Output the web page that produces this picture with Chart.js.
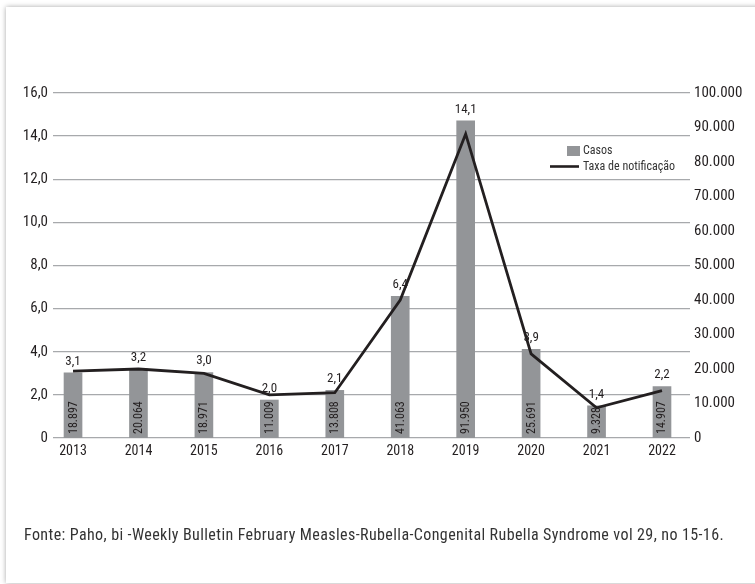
<!DOCTYPE html>
<html>
<head>
<meta charset="utf-8">
<script src="https://cdn.jsdelivr.net/npm/chart.js@4.4.1/dist/chart.umd.min.js"></script>
<style>
  html, body { margin: 0; padding: 0; background: #fff; width: 755px; height: 584px; overflow: hidden; }
  #card { position: absolute; left: 6px; top: 7px; width: 800px; height: 576px; background: #fff;
          box-shadow: 0 0 5px rgba(0,0,0,0.35); }
  #wrap { position: absolute; left: 0; top: 0; width: 755px; height: 584px; }
  #src { position: absolute; left: 24px; top: 525px; font-family: 'Liberation Sans Narrow', 'Roboto Condensed', 'DejaVu Sans Condensed', sans-serif;
         font-size: 16px; letter-spacing: 0.4px; color: #333; white-space: nowrap; }
</style>
</head>
<body>
<div id="card"></div>
<div id="wrap"><canvas id="c" width="755" height="584"></canvas></div>
<div id="src">Fonte: Paho, bi -Weekly Bulletin February Measles-Rubella-Congenital Rubella Syndrome vol 29, no 15-16.</div>
<script>
const years = [2013, 2014, 2015, 2016, 2017, 2018, 2019, 2020, 2021, 2022];
const casos = [18897, 20064, 18971, 11009, 13808, 41063, 91950, 25691, 9328, 14907];
const taxa = [3.1, 3.2, 3.0, 2.0, 2.1, 6.4, 14.1, 3.9, 1.4, 2.2];
const seriesNames = ['Casos', 'Taxa de notificação'];

const FONT = "'Liberation Sans Narrow', 'Roboto Condensed', 'DejaVu Sans Condensed', sans-serif";
const BAR_COLOR = '#939598';
const LINE_COLOR = '#231f20';
const fmtRate = v => v.toFixed(1).replace('.', ',');
const fmtThousand = v => Math.round(v).toString().replace(/\B(?=(\d{3})+(?!\d))/g, '.');

const labelPlugin = {
  id: 'labels',
  afterDatasetDraw(chart, args) {
    if (args.index !== 0) return;
    const ctx = chart.ctx;
    const meta = chart.getDatasetMeta(0);
    ctx.save();
    meta.data.forEach((bar, i) => {
      ctx.font = '13px ' + FONT;
      ctx.fillStyle = '#231f20';
      ctx.textAlign = 'center';
      ctx.textBaseline = 'bottom';
      ctx.fillText(fmtRate(taxa[i]), bar.x, bar.y - 5);
      ctx.save();
      ctx.translate(bar.x, bar.base - 4);
      ctx.rotate(-Math.PI / 2);
      ctx.font = '12px ' + FONT;
      ctx.fillStyle = '#231f20';
      ctx.textAlign = 'left';
      ctx.textBaseline = 'middle';
      ctx.fillText(fmtThousand(casos[i]), 0, 0.5);
      ctx.restore();
    });
    ctx.restore();
  },
  afterDraw(chart) {
    const ctx = chart.ctx;
    ctx.save();
    ctx.font = '12px ' + FONT;
    ctx.textAlign = 'left';
    ctx.textBaseline = 'middle';
    ctx.fillStyle = BAR_COLOR;
    ctx.fillRect(567, 146, 13, 10);
    ctx.fillStyle = '#333';
    ctx.fillText(chart.data.datasets[0].label, 583, 151);
    ctx.strokeStyle = LINE_COLOR;
    ctx.lineWidth = 2.6;
    ctx.beginPath();
    ctx.moveTo(550, 166.5);
    ctx.lineTo(579, 166.5);
    ctx.stroke();
    ctx.fillText(chart.data.datasets[1].label, 583, 166.5);
    ctx.restore();
  }
};

new Chart(document.getElementById('c'), {
  type: 'bar',
  data: {
    datasets: [
      {
        type: 'bar',
        label: seriesNames[0],
        data: years.map((y, i) => ({ x: y, y: casos[i] })),
        backgroundColor: BAR_COLOR,
        barThickness: 18,
        yAxisID: 'y1',
        order: 2
      },
      {
        type: 'line',
        label: seriesNames[1],
        data: years.map((y, i) => ({ x: y, y: taxa[i] })),
        borderColor: LINE_COLOR,
        borderWidth: 2.8,
        pointRadius: 0,
        tension: 0,
        yAxisID: 'y',
        order: 1
      }
    ]
  },
  options: {
    responsive: false,
    animation: false,
    events: [],
    layout: { padding: { top: 93, bottom: 121, left: 0, right: 0 } },
    plugins: { legend: { display: false }, tooltip: { enabled: false } },
    scales: {
      x: {
        type: 'linear',
        offset: false,
        min: 2012.694,
        max: 2022.428,
        grid: { display: false, drawTicks: false, offset: false },
        border: { display: false },
        afterBuildTicks: s => { s.ticks = years.map(v => ({ value: v })); },
        afterFit: s => { s.height = 25; },
        ticks: {
          padding: 5,
          autoSkip: false,
          maxRotation: 0,
          color: '#231f20',
          font: { family: FONT, size: 14 },
          callback: v => String(v)
        }
      },
      y: {
        position: 'left',
        min: 0, max: 16,
        afterFit: s => { s.width = 53; },
        grid: { color: '#a7a9ac', lineWidth: 1.3, drawTicks: false },
        border: { display: false },
        ticks: {
          stepSize: 2, padding: 5, color: '#231f20',
          font: { family: FONT, size: 15 },
          callback: v => v === 0 ? '0' : fmtRate(v)
        }
      },
      y1: {
        position: 'right',
        min: 0, max: 100000,
        afterFit: s => { s.width = 65; },
        grid: { display: false, drawTicks: false },
        border: { display: false },
        ticks: {
          stepSize: 10000, padding: 4, color: '#231f20',
          font: { family: FONT, size: 15 },
          callback: v => fmtThousand(v)
        }
      }
    }
  },
  plugins: [labelPlugin]
});
</script>
</body>
</html>
